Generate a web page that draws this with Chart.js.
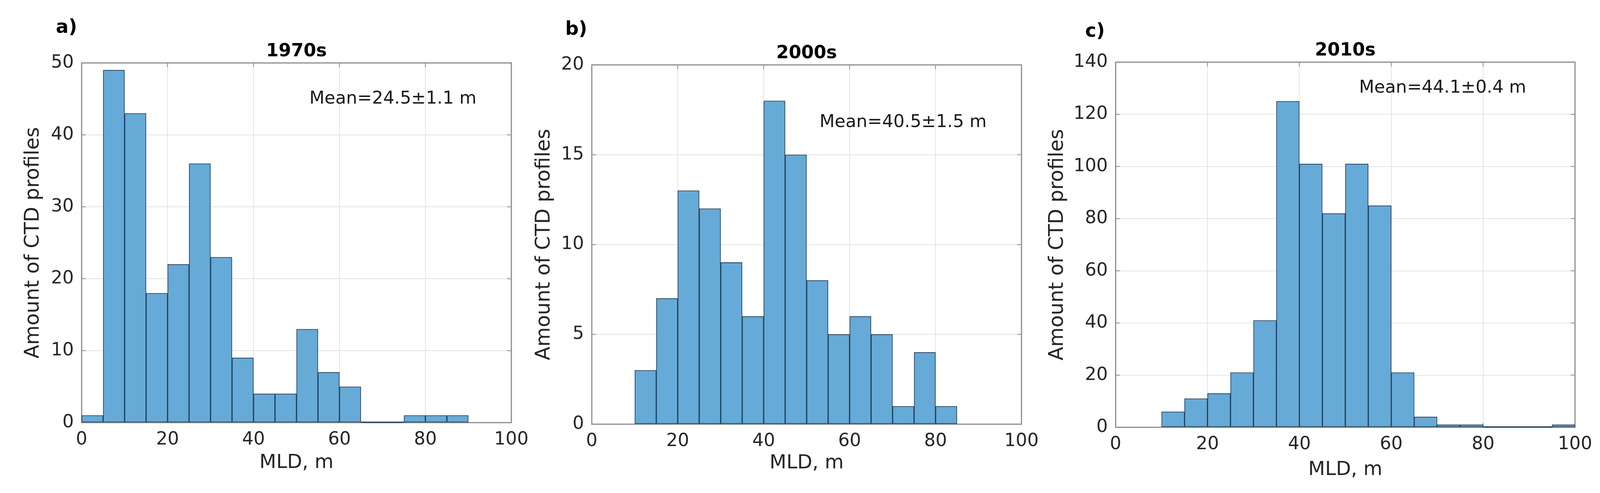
<!DOCTYPE html>
<html>
<head>
<meta charset="utf-8">
<script src="https://cdn.jsdelivr.net/npm/chart.js@4.4.1/dist/chart.umd.min.js"></script>
<style>
  html, body { margin: 0; padding: 0; background: #fff; }
  body { width: 4119px; height: 1261px; position: relative; overflow: hidden; }
  canvas { position: absolute; top: 0; }
</style>
</head>
<body>
<canvas id="chart-a"></canvas>
<canvas id="chart-b"></canvas>
<canvas id="chart-c"></canvas>
<script>
// Left edges of the 5 m MLD bins
const binStarts = [0, 5, 10, 15, 20, 25, 30, 35, 40, 45, 50, 55, 60, 65, 70, 75, 80, 85, 90, 95];
const binWidth = 5;

// Number of CTD profiles per bin
const counts1970 = [1, 49, 43, 18, 22, 36, 23, 9, 4, 4, 13, 7, 5, 0, 0, 1, 1, 1, 0, 0];
const counts2000 = [0, 0, 3, 7, 13, 12, 9, 6, 18, 15, 8, 5, 6, 5, 1, 4, 1, 0, 0, 0];
const counts2010 = [0, 0, 6, 11, 13, 21, 41, 125, 101, 82, 101, 85, 21, 4, 1, 1, 0, 0, 0, 1];

// Extent of each histogram (empty bins inside it still show a flat edge)
const range1970 = [0, 90];
const range2000 = [10, 85];
const range2010 = [10, 100];

const xTicks = [0, 20, 40, 60, 80, 100];
const yTicks1970 = [0, 10, 20, 30, 40, 50];
const yTicks2000 = [0, 5, 10, 15, 20];
const yTicks2010 = [0, 20, 40, 60, 80, 100, 120, 140];

const panelTitles = ['1970s', '2000s', '2010s'];
const panelLetters = ['a)', 'b)', 'c)'];
const meanLabels = ['Mean=24.5\u00b11.1 m', 'Mean=40.5\u00b11.5 m', 'Mean=44.1\u00b10.4 m'];
const meanAnchorX = [53, 53, 53];
const meanAnchorY = [45, 16.8, 130];

const fillColor = '#66aad7';
const edgeColor = '#203a52';
const boxColor = '#8c8c8c';
const gridColor = '#e4e4e4';
const textColor = '#262626';

Chart.defaults.font.family = '"DejaVu Sans", sans-serif';

// Box, inward ticks, flat edges of empty bins, titles and the mean label
const panelDecor = {
    id: 'panelDecor',
    beforeDatasetsDraw(chart, args, opts) {
        const { ctx, chartArea: a } = chart;
        const xs = chart.scales.x, ys = chart.scales.y;
        ctx.save();
        ctx.strokeStyle = boxColor;
        ctx.lineWidth = 3;
        ctx.strokeRect(a.left, a.top, a.right - a.left, a.bottom - a.top);
        ctx.lineWidth = 2;
        ctx.beginPath();
        xTicks.forEach(v => {
            const px = xs.getPixelForValue(v);
            ctx.moveTo(px, a.bottom); ctx.lineTo(px, a.bottom - 11);
            ctx.moveTo(px, a.top); ctx.lineTo(px, a.top + 11);
        });
        opts.yTicks.forEach(v => {
            const py = ys.getPixelForValue(v);
            ctx.moveTo(a.left, py); ctx.lineTo(a.left + 11, py);
            ctx.moveTo(a.right, py); ctx.lineTo(a.right - 11, py);
        });
        ctx.stroke();
        ctx.restore();
    },
    afterDatasetsDraw(chart, args, opts) {
        const { ctx } = chart;
        const xs = chart.scales.x, ys = chart.scales.y;
        ctx.save();
        ctx.strokeStyle = edgeColor;
        ctx.lineWidth = 3;
        ctx.beginPath();
        binStarts.forEach((b, i) => {
            if (opts.counts[i] === 0 && b >= opts.range[0] && b + binWidth <= opts.range[1]) {
                const y0 = ys.getPixelForValue(0) - 1;
                ctx.moveTo(xs.getPixelForValue(b), y0);
                ctx.lineTo(xs.getPixelForValue(b + binWidth), y0);
            }
        });
        ctx.stroke();
        ctx.restore();
    },
    afterDraw(chart, args, opts) {
        const { ctx, chartArea: a } = chart;
        const xs = chart.scales.x, ys = chart.scales.y;
        ctx.save();
        ctx.textBaseline = 'middle';
        ctx.fillStyle = '#000';
        ctx.textAlign = 'center';
        ctx.font = 'bold 46px "DejaVu Sans"';
        ctx.fillText(opts.title, (a.left + a.right) / 2, a.top - 29);
        ctx.textAlign = 'left';
        ctx.font = 'bold 48px "DejaVu Sans"';
        ctx.fillText(opts.letter, a.left + opts.letterDx, a.top + opts.letterDy);
        ctx.fillStyle = '#1a1a1a';
        ctx.font = '45px "DejaVu Sans"';
        ctx.fillText(opts.mean, xs.getPixelForValue(opts.meanX), ys.getPixelForValue(opts.meanY));
        ctx.restore();
    }
};

function makePanel(id, p) {
    const canvas = document.getElementById(id);
    canvas.width = p.width;
    canvas.height = 1261;
    canvas.style.left = p.left + 'px';

    new Chart(canvas, {
        type: 'bar',
        data: {
            datasets: [{
                data: binStarts.map((b, i) => ({ x: b + binWidth / 2, y: p.counts[i] })),
                backgroundColor: fillColor,
                borderColor: edgeColor,
                borderWidth: 1.8,
                borderSkipped: false,
                barPercentage: 1,
                categoryPercentage: 1
            }]
        },
        options: {
            responsive: false,
            animation: false,
            devicePixelRatio: 1,
            layout: { padding: { left: 0, top: p.plotTop, right: p.padRight, bottom: 0 } },
            plugins: {
                legend: { display: false },
                tooltip: { enabled: false },
                panelDecor: {
                    title: p.title, letter: p.letter, letterDx: p.letterDx, letterDy: p.letterDy,
                    mean: p.mean, meanX: p.meanX, meanY: p.meanY,
                    yTicks: p.yTicks, counts: p.counts, range: p.range
                }
            },
            scales: {
                x: {
                    type: 'linear',
                    min: 0,
                    max: 100,
                    offset: false,
                    afterBuildTicks: s => { s.ticks = xTicks.map(v => ({ value: v })); },
                    afterFit: s => { s.height = p.xAxisHeight; },
                    grid: { color: gridColor, lineWidth: 2, drawTicks: false, offset: false },
                    border: { display: false },
                    ticks: { font: { size: 46 }, color: textColor, padding: 16, maxRotation: 0 },
                    title: {
                        display: true, text: 'MLD, m', color: textColor,
                        font: { size: 50 }, padding: { top: 0, bottom: p.xTitlePad }
                    }
                },
                y: {
                    min: 0,
                    max: p.yTicks[p.yTicks.length - 1],
                    afterBuildTicks: s => { s.ticks = p.yTicks.map(v => ({ value: v })); },
                    afterFit: s => { s.width = p.yAxisWidth; },
                    grid: { color: gridColor, lineWidth: 2, drawTicks: false },
                    border: { display: false },
                    ticks: { font: { size: 46 }, color: textColor, padding: 20 },
                    title: {
                        display: true, text: 'Amount of CTD profiles', color: textColor,
                        font: { size: 51 }, padding: { top: p.yTitlePad, bottom: 0 }
                    }
                }
            }
        },
        plugins: [panelDecor]
    });
}

makePanel('chart-a', {
    left: 0, width: 1373, plotTop: 161, padRight: 64, yAxisWidth: 209, xAxisHeight: 180,
    yTitlePad: 55, xTitlePad: 47, counts: counts1970, range: range1970, yTicks: yTicks1970,
    title: panelTitles[0], letter: panelLetters[0], letterDx: -66, letterDy: -89,
    mean: meanLabels[0], meanX: meanAnchorX[0], meanY: meanAnchorY[0]
});
makePanel('chart-b', {
    left: 1340, width: 1340, plotTop: 166, padRight: 65, yAxisWidth: 175, xAxisHeight: 176,
    yTitlePad: 23, xTitlePad: 46, counts: counts2000, range: range2000, yTicks: yTicks2000,
    title: panelTitles[1], letter: panelLetters[1], letterDx: -68, letterDy: -89,
    mean: meanLabels[1], meanX: meanAnchorX[1], meanY: meanAnchorY[1]
});
makePanel('chart-c', {
    left: 2650, width: 1469, plotTop: 159, padRight: 87, yAxisWidth: 206, xAxisHeight: 168,
    yTitlePad: 27, xTitlePad: 29, counts: counts2010, range: range2010, yTicks: yTicks2010,
    title: panelTitles[2], letter: panelLetters[2], letterDx: -78, letterDy: -77,
    mean: meanLabels[2], meanX: meanAnchorX[2], meanY: meanAnchorY[2]
});
</script>
</body>
</html>
